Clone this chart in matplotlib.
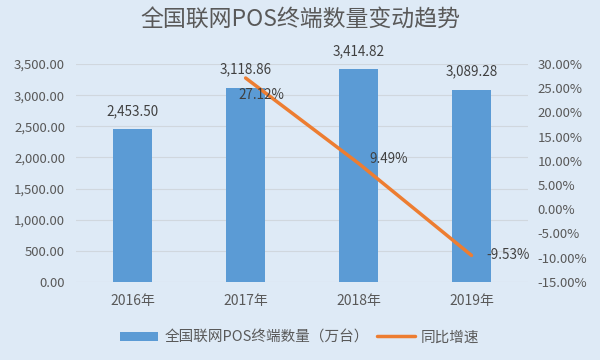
import matplotlib
matplotlib.use("Agg")
import matplotlib.pyplot as plt
from matplotlib.ticker import FuncFormatter

plt.rcParams['font.family'] = ['Noto Sans CJK SC', 'DejaVu Sans']

years = ['2016年', '2017年', '2018年', '2019年']
counts = [2453.50, 3118.86, 3414.82, 3089.28]
growth_years = ['2017年', '2018年', '2019年']
growth = [27.12, 9.49, -9.53]

bg = '#DEEAF6'
bar_c = '#5B9BD5'
line_c = '#ED7D31'
txt = '#404040'
tick_c = '#595959'

fig = plt.figure(figsize=(6, 3.6), dpi=100, facecolor=bg)
ax = fig.add_axes([0.127, 0.217, 0.753, 0.605])
ax.set_facecolor(bg)
x = list(range(len(years)))
bars = ax.bar(x, counts, width=0.34, color=bar_c, zorder=2, label='全国联网POS终端数量（万台）')
ax.set_ylim(0, 3500)
ax.set_xlim(-0.5, 3.5)
ax.set_yticks([i * 500 for i in range(8)])
ax.yaxis.set_major_formatter(FuncFormatter(lambda v, p: f'{v:,.2f}'))
ax.grid(axis='y', color='#D0D7DE', linewidth=0.8, zorder=0)
ax.set_xticks(x)
ax.set_xticklabels(years)
for s in ax.spines.values():
    s.set_visible(False)
ax.tick_params(axis='y', length=0, labelsize=9.5, colors=tick_c, pad=8)
ax.tick_params(axis='x', length=0, labelsize=10, colors=tick_c, pad=9)
for xi, v in zip(x, counts):
    ax.annotate(f'{v:,.2f}', (xi, v), xytext=(0, 8), textcoords='offset points',
                ha='center', va='bottom', fontsize=9.7, color=txt)

ax2 = ax.twinx()
gx = [years.index(y) for y in growth_years]
ln, = ax2.plot(gx, growth, color=line_c, linewidth=2.5, zorder=3, label='同比增速',
               solid_capstyle='round')
ax2.set_ylim(-15, 30)
ax2.set_yticks(list(range(-15, 31, 5)))
ax2.yaxis.set_major_formatter(FuncFormatter(lambda v, p: f'{v:.2f}%'))
for s in ax2.spines.values():
    s.set_visible(False)
ax2.tick_params(length=0, labelsize=9.5, colors=tick_c, pad=7)
offsets = [(-5, -12), (8, 3), (11, 0)]
for xi, v, off in zip(gx, growth, offsets):
    ax2.annotate(f'{v:.2f}%', (xi, v), xytext=off, textcoords='offset points',
                 ha='left', va='center', fontsize=9.7, color=txt)

fig.text(0.5, 0.945, '全国联网POS终端数量变动趋势', ha='center', va='center',
         fontsize=16.5, color='#595959')
fig.legend(handles=[bars, ln], loc='center', bbox_to_anchor=(0.5, 0.063), ncol=2,
           frameon=False, fontsize=10.5, labelcolor=tick_c, handlelength=2.6,
           handleheight=0.6, columnspacing=0.6, handletextpad=0.4)
fig.savefig('out.png', dpi=100, facecolor=bg)
